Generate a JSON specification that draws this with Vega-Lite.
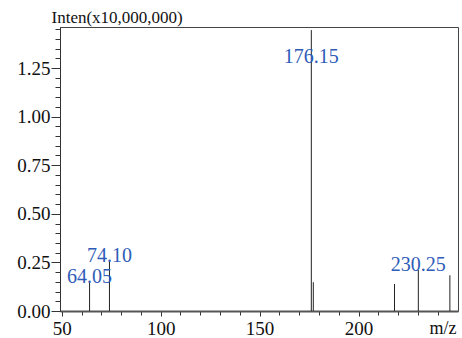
{
  "$schema": "https://vega.github.io/schema/vega-lite/v6.json",
  "width": 398,
  "height": 284,
  "autosize": {"type": "none"},
  "padding": {"left": 60, "top": 27, "right": 4, "bottom": 27},
  "background": "white",
  "config": {
    "view": {"stroke": "#444", "strokeWidth": 1},
    "font": "Liberation Serif",
    "text": {"font": "Liberation Serif"},
    "axis": {"labelFont": "Liberation Serif", "titleFont": "Liberation Serif"}
  },
  "data": {
    "values": [
      {"mz": 64.05, "intensity": 0.151, "label": "64.05", "kind": "normal"},
      {"mz": 74.10, "intensity": 0.257, "label": "74.10", "kind": "normal"},
      {"mz": 176.15, "intensity": 1.445, "label": "176.15", "kind": "base"},
      {"mz": 177.15, "intensity": 0.148, "label": "", "kind": "none"},
      {"mz": 218.2, "intensity": 0.139, "label": "", "kind": "none"},
      {"mz": 230.25, "intensity": 0.211, "label": "230.25", "kind": "normal"},
      {"mz": 246.2, "intensity": 0.184, "label": "", "kind": "none"}
    ]
  },
  "encoding": {
    "x": {
      "field": "mz",
      "type": "quantitative",
      "scale": {"domain": [49.1, 250.3], "nice": false, "zero": false},
      "axis": {
        "values": [50, 60, 70, 80, 90, 100, 110, 120, 130, 140, 150, 160, 170, 180, 190, 200, 210, 220, 230, 240],
        "labelExpr": "datum.value % 50 === 0 ? datum.value : ''",
        "grid": false,
        "tickSize": {"condition": {"test": "datum.value % 50 === 0", "value": 5}, "value": 4},
        "tickColor": "#333",
        "domainColor": "#555",
        "domainWidth": 2,
        "labelFont": "Liberation Serif",
        "labelFontSize": 19,
        "labelColor": "#111",
        "labelPadding": 3,
        "labelFlush": false,
        "labelOverlap": false,
        "title": "m/z",
        "titleFont": "Liberation Serif",
        "titleFontSize": 18,
        "titleFontWeight": "normal",
        "titleColor": "#111",
        "titleAlign": "right",
        "titleBaseline": "alphabetic",
        "titleX": 396,
        "titleY": 22
      }
    },
    "y": {
      "field": "intensity",
      "type": "quantitative",
      "scale": {"domain": [0, 1.461], "nice": false},
      "axis": {
        "values": [0, 0.05, 0.1, 0.15, 0.2, 0.25, 0.3, 0.35, 0.4, 0.45, 0.5, 0.55, 0.6, 0.65, 0.7, 0.75, 0.8, 0.85, 0.9, 0.95, 1.0, 1.05, 1.1, 1.15, 1.2, 1.25, 1.3, 1.35, 1.4, 1.45],
        "labelExpr": "abs(datum.value * 4 - round(datum.value * 4)) < 0.001 ? format(datum.value, '.2f') : ''",
        "grid": false,
        "tickSize": {"condition": {"test": "abs(datum.value * 4 - round(datum.value * 4)) < 0.001", "value": 9}, "value": 5},
        "tickColor": "#333",
        "domainColor": "#333",
        "labelFont": "Liberation Serif",
        "labelFontSize": 19,
        "labelColor": "#111",
        "labelPadding": 1,
        "labelOverlap": false,
        "labelFlush": false,
        "title": "Inten(x10,000,000)",
        "titleFont": "Liberation Serif",
        "titleFontSize": 17,
        "titleFontWeight": "normal",
        "titleColor": "#111",
        "titleAngle": 0,
        "titleAlign": "left",
        "titleBaseline": "alphabetic",
        "titleX": -9,
        "titleY": -5
      }
    }
  },
  "layer": [
    {
      "mark": {"type": "rule", "color": "#222", "strokeWidth": 1},
      "encoding": {"y2": {"datum": 0}}
    },
    {
      "transform": [{"filter": "datum.kind === 'normal'"}],
      "mark": {"type": "text", "font": "Liberation Serif", "color": "#2e5cb8", "fontSize": 20, "baseline": "alphabetic", "align": "center", "dy": 1},
      "encoding": {"text": {"field": "label"}}
    },
    {
      "transform": [{"filter": "datum.kind === 'base'"}],
      "mark": {"type": "text", "font": "Liberation Serif", "color": "#2e5cb8", "fontSize": 20, "baseline": "alphabetic", "align": "center", "dy": 33},
      "encoding": {"text": {"field": "label"}}
    }
  ]
}
